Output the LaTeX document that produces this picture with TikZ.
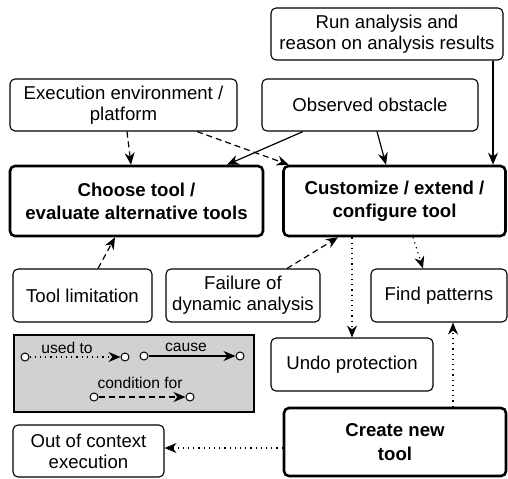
\documentclass[tikz,border=0pt]{standalone}
\usepackage{fontspec}
\setmainfont{Liberation Sans}
\usetikzlibrary{arrows.meta,calc}
\begin{document}
\begin{tikzpicture}[x=0.5pt,y=-0.5pt,
    box/.style={draw, rounded corners=2.5pt, align=center, inner sep=0pt,
      line width=0.55pt, font=\fontsize{9.3}{10.6}\selectfont},
    bigbox/.style={box, line width=1.3pt, font=\bfseries\fontsize{9.3}{11.6}\selectfont},
    dot/.style={circle, draw, fill=white, inner sep=0pt, minimum size=4pt, line width=0.5pt},
    lbl/.style={font=\fontsize{7.8}{9}\selectfont, inner sep=0pt},
    >={Stealth[length=6pt,width=5pt]}]
      \useasboundingbox (0,0) rectangle (508,478);
      \path
        (387,34) node[box, minimum width=116pt, minimum height=26pt] (run){Run analysis and\\reason on analysis results}
        (123.5,105) node[box, minimum width=113.5pt, minimum height=26pt] (env){Execution environment /\\platform}
        (370,105) node[box, minimum width=108pt, minimum height=26pt] (obs){Observed obstacle}
        (136.5,201) node[bigbox, minimum width=126.5pt, minimum height=35pt] (choose){Choose tool /\\evaluate alternative tools}
        (394.5,201) node[bigbox, minimum width=111pt, minimum height=35pt] (custom){Customize / extend /\\configure tool}
        (82.5,295.5) node[box, minimum width=69.5pt, minimum height=26.5pt] (limit){Tool limitation}
        (243,295.5) node[box, minimum width=77pt, minimum height=26.5pt] (fail){Failure of\\dynamic analysis}
        (439,295.5) node[box, minimum width=68pt, minimum height=26.5pt] (find){Find patterns}
        (352,364.5) node[box, minimum width=81pt, minimum height=26.5pt] (undo){Undo protection}
        (395,442) node[bigbox, minimum width=111pt, minimum height=34pt] (create){Create new\\tool}
        (88.5,451) node[box, minimum width=75.5pt, minimum height=26pt] (ooc){Out of context\\execution};
      % legend
      \path
        (134,373.5) node[draw, fill=black!18, line width=0.6pt, minimum width=120pt, minimum height=38.5pt] (legend){}
        (25,357) node[dot] (u1){}
        (125,357) node[dot] (u2){}
        (144,356) node[dot] (c1){}
        (240,356) node[dot] (c2){}
        (94,397) node[dot] (k1){}
        (190,397) node[dot] (k2){}
        (67,348) node[lbl] (ulbl){used to}
        (186,347) node[lbl] (clbl){cause}
        (140,383) node[lbl] (klbl){condition for};
      \begin{scope}[->, line width=0.6pt]
        \draw[dotted] (u1) to (u2);
        \draw (c1) to (c2);
        \draw[dash pattern=on 3pt off 2pt] (k1) to (k2);
      \end{scope}
      % connectors
      \begin{scope}[->, line width=0.6pt]
        \draw[dash pattern=on 3pt off 2pt] ($(env.south)+(3.5,0)$) to ($(choose.north)+(-5.5,0)$);
        \draw[dash pattern=on 3pt off 2pt] ($(env.south)+(73.5,0)$) to ($(custom.north west)+(6.5,0)$);
        \draw ($(obs.south)+(-67,0)$) to ($(choose.north)+(90.5,0)$);
        \draw ($(obs.south)+(7,0)$) to ($(custom.north)+(-8.5,0)$);
        \draw ($(run.south)+(106,0)$) to ($(custom.north)+(98.5,0)$);
        \draw[dash pattern=on 3pt off 2pt] ($(limit.north)+(15.5,0)$) to ($(choose.south)+(-21.5,0)$);
        \draw[dash pattern=on 3pt off 2pt] ($(fail.north)+(44,0)$) to ($(custom.south)+(-56.5,0)$);
        \draw[dotted] ($(custom.south)+(-42.5,0)$) to (undo.north);
        \draw[dotted] ($(custom.south)+(18.5,0)$) to ($(find.north)+(-16,0)$);
        \draw[dotted] ($(create.north)+(58,0)$) to ($(find.south)+(14,0)$);
        \draw[dotted] ($(create.west)+(0,6)$) to ($(ooc.east)+(0,-3)$);
      \end{scope}
    \end{tikzpicture}
\end{document}
